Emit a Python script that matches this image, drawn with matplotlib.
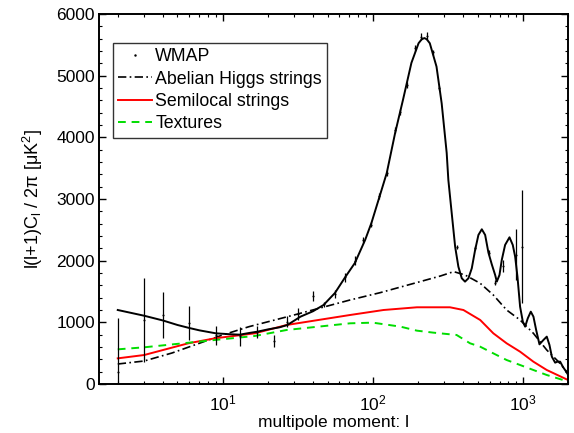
import matplotlib
matplotlib.use("Agg")
import matplotlib.pyplot as plt
from matplotlib.ticker import MultipleLocator, LogLocator, NullFormatter

plt.rcParams['font.family'] = ['Liberation Sans', 'DejaVu Sans']
plt.rcParams['mathtext.fontset'] = 'custom'
plt.rcParams['mathtext.rm'] = 'Liberation Sans'
plt.rcParams['mathtext.it'] = 'Liberation Sans:italic'

# WMAP best-fit curve
wmap_l = [2, 3, 4, 5, 6, 7, 9, 11, 13, 15, 17, 20, 24, 27, 33, 40, 47, 56, 65, 76,
          89, 98, 112, 124, 141, 159, 181, 202, 212, 221, 229, 240, 266, 288, 311,
          319, 336, 354, 372, 392, 412, 434, 457, 481, 506, 533, 561, 590, 621, 654,
          671, 699, 724, 762, 815, 857, 889, 921, 959, 1000, 1036, 1079, 1130, 1177,
          1227, 1291, 1372, 1444, 1505, 1561, 1642, 1702, 1773, 1847, 1964, 2000]
wmap_v = [1200, 1107, 1030, 957, 908, 870, 822, 808, 800, 827, 848, 885, 920, 957,
          1092, 1180, 1281, 1476, 1719, 1962, 2336, 2611, 3070, 3422, 4071, 4606,
          5207, 5526, 5590, 5610, 5590, 5526, 5147, 4550, 3747, 3309, 2768, 2228,
          1903, 1714, 1660, 1714, 1876, 2173, 2417, 2509, 2417, 2130, 1941, 1768,
          1660, 1768, 2011, 2255, 2379, 2255, 2065, 1741, 1254, 1011, 930, 1065,
          1173, 1092, 876, 643, 714, 768, 633, 443, 346, 362, 362, 281, 184, 150]

# WMAP data points with errors
pts_l = [2, 3, 4, 6, 9, 13, 17, 22, 27, 32, 40, 47, 56, 65, 76, 86, 97, 110, 124,
         141, 153, 169, 190, 209, 230, 251, 277, 362, 480, 591, 650, 740, 896, 992]
pts_v = [200, 1038, 1119, 990, 790, 773, 841, 700, 1011, 1133, 1432, 1290, 1460,
         1733, 2000, 2335, 2580, 3050, 3416, 4120, 4412, 4850, 5450, 5634, 5645,
         5377, 4800, 2227, 2200, 2130, 1640, 1917, 2100, 2228]
pts_e = [870, 676, 368, 275, 157, 157, 100, 95, 92, 95, 82, 45, 65, 72, 70, 55,
         40, 50, 40, 55, 45, 50, 50, 50, 60, 40, 40, 30, 30, 40, 40, 95, 410, 920]

# Abelian Higgs strings
ah_l = [2, 3, 4.6, 10, 15, 30, 70, 112, 200, 283, 346, 412, 520, 636, 780, 959,
        1176, 1444, 1727, 1960, 2000]
ah_v = [324, 373, 503, 795, 930, 1120, 1360, 1481, 1650, 1752, 1822, 1768, 1633,
        1443, 1200, 1038, 822, 551, 362, 200, 170]

# Semilocal strings
sl_l = [2, 3, 5.9, 8.9, 16.4, 26.7, 70.6, 118, 197, 327, 402, 520, 636, 780, 959,
        1176, 1444, 2000]
sl_v = [416, 470, 660, 741, 822, 957, 1119, 1200, 1244, 1244, 1200, 1038, 822, 660,
        524, 362, 227, 65]

# Textures
tx_l = [2, 3, 8.9, 16.4, 26.7, 70.6, 100, 153, 197, 253, 362, 445, 520, 636, 780,
        959, 1176, 1444, 2000]
tx_v = [562, 595, 714, 779, 876, 984, 995, 930, 865, 833, 795, 660, 605, 497, 389,
        308, 227, 146, 40]

fig = plt.figure(figsize=(5.74, 4.33), dpi=100)
ax = fig.add_axes([99/574, 49/433, 469/574, 370/433])

ax.plot(wmap_l, wmap_v, color='black', lw=1.4, zorder=3)
lo = [v - e for v, e in zip(pts_v, pts_e)]
hi = [v + e for v, e in zip(pts_v, pts_e)]
ax.vlines(pts_l, lo, hi, color='black', lw=0.9, zorder=4)
ax.plot(pts_l, pts_v, '.', color='black', ms=1.0, label='WMAP', zorder=5)
ax.plot(ah_l, ah_v, color='black', lw=1.2, ls=(0, (5, 2, 1, 2)), label='Abelian Higgs strings')
ax.plot(sl_l, sl_v, color='red', lw=1.4, label='Semilocal strings')
ax.plot(tx_l, tx_v, color='#00dd00', lw=1.4, ls=(0, (4, 3)), label='Textures')

ax.set_xscale('log')
ax.set_xlim(1.5, 2000)
ax.set_ylim(0, 6000)
ax.yaxis.set_major_locator(MultipleLocator(1000))
ax.yaxis.set_minor_locator(MultipleLocator(200))
ax.xaxis.set_major_locator(LogLocator(base=10, numticks=10))
ax.xaxis.set_minor_locator(LogLocator(base=10, subs=range(2, 10), numticks=10))
ax.xaxis.set_minor_formatter(NullFormatter())
ax.tick_params(which='both', direction='in', top=True, right=True, labelsize=12.5)
ax.tick_params(which='major', length=5, width=1)
ax.tick_params(which='minor', length=2.5, width=0.8)
ax.tick_params(axis='x', which='major', pad=7)
ax.tick_params(axis='y', which='major', pad=3)
for s in ax.spines.values():
    s.set_linewidth(1.4)

ax.set_xlabel('multipole moment: l', fontsize=12.5, labelpad=1)
ax.set_ylabel(r'l(l+1)C$_\mathregular{l}$ / 2π [μK$^\mathregular{2}$]', fontsize=13, labelpad=8)

leg = ax.legend(loc='upper left', bbox_to_anchor=(0.029, 0.922), borderaxespad=0,
                fontsize=12.8, frameon=True, fancybox=False, edgecolor='black',
                handlelength=1.9, handletextpad=0.2, labelspacing=0.3,
                borderpad=0.3, markerscale=1.5)
leg.get_frame().set_linewidth(1.0)

fig.savefig('out.png', dpi=100)
